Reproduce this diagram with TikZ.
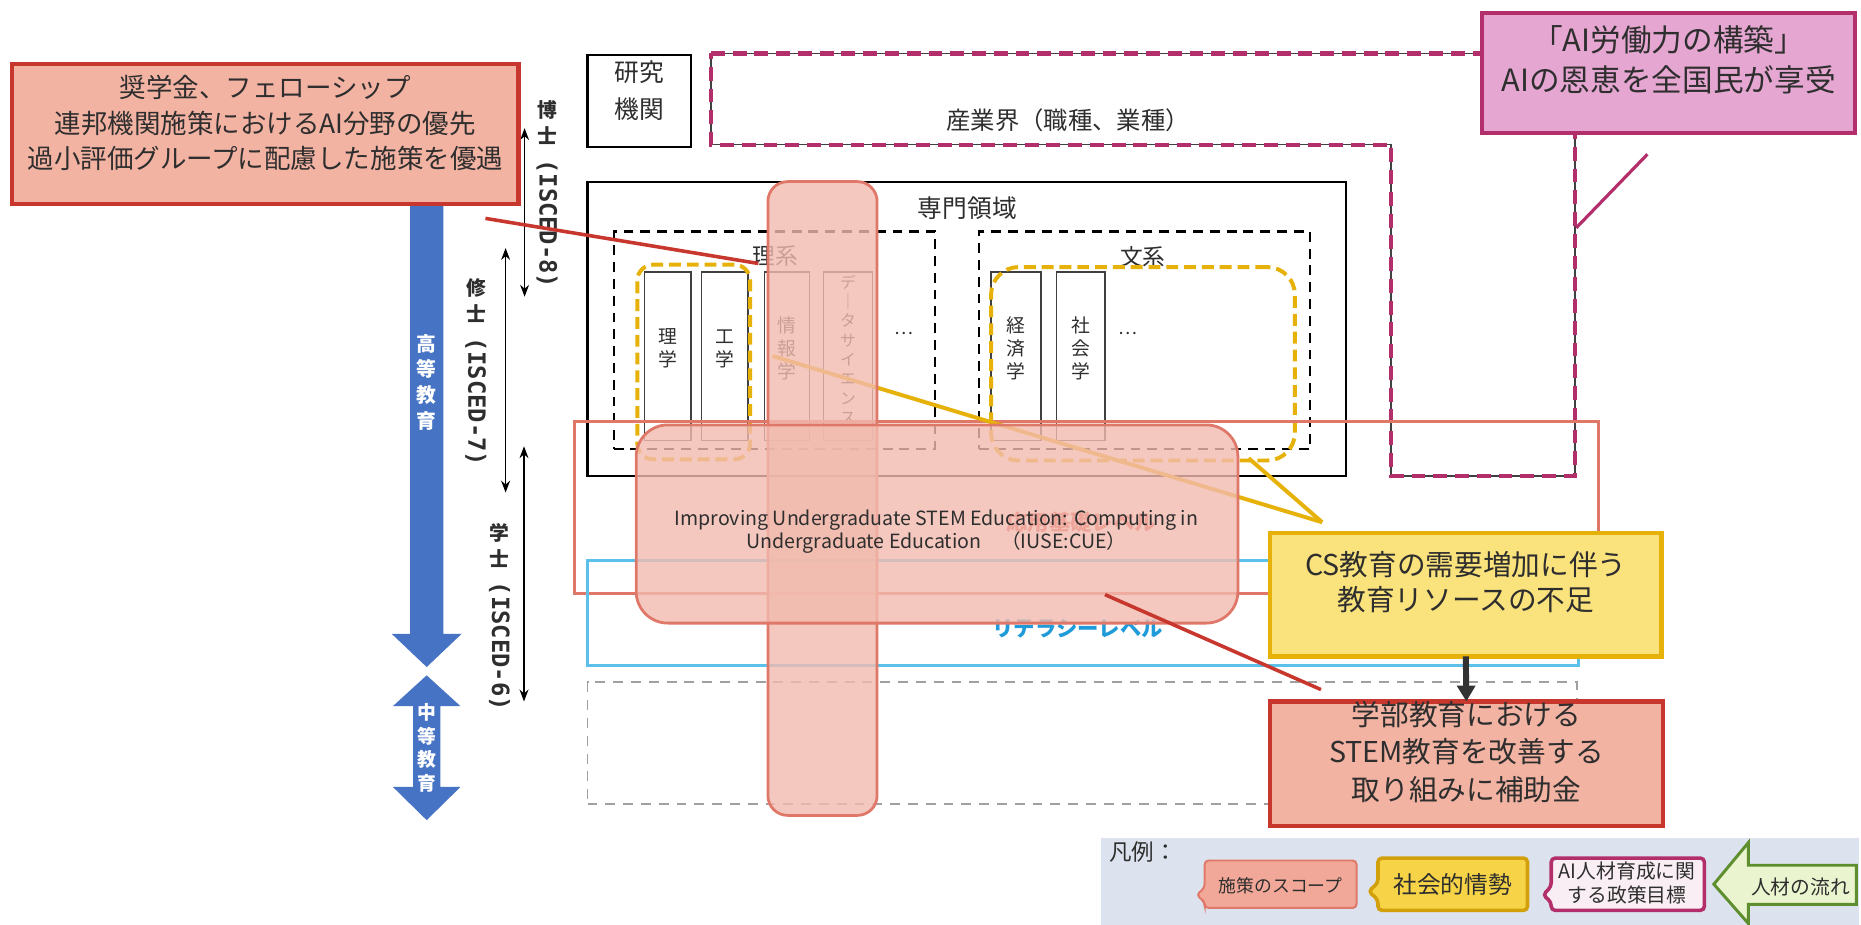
\documentclass[tikz,border=0pt]{standalone}
\usepackage{fontspec}
\setmainfont{Noto Sans CJK JP}
\newfontfamily\monof{DejaVu Sans Mono}
\usetikzlibrary{arrows.meta,fit}
\newcommand\fsz[2]{\fontsize{#1pt}{#2pt}\selectfont}
\definecolor{txt}{HTML}{2E2E2E}
\definecolor{redb}{HTML}{C8372D}
\definecolor{salmon}{HTML}{F3B3A3}
\definecolor{pinkb}{HTML}{E0786A}
\definecolor{pinkf}{HTML}{F2BBAE}
\definecolor{yelb}{HTML}{E6B20A}
\definecolor{yelf}{HTML}{FAE27C}
\definecolor{mag}{HTML}{B32F6B}
\definecolor{magf}{HTML}{E5A6D1}
\definecolor{bluea}{HTML}{4673C4}
\definecolor{cyanb}{HTML}{5BC1EA}
\definecolor{cyant}{HTML}{1E9BD8}
\definecolor{redt}{HTML}{E04848}
\definecolor{grayd}{HTML}{A0A0A0}
\definecolor{legbg}{HTML}{DCE3EE}
\definecolor{greenb}{HTML}{5E8E2E}
\definecolor{greenf}{HTML}{EAF5D0}
\definecolor{legpink}{HTML}{F2A898}
\definecolor{legyel}{HTML}{F7D447}
\definecolor{legyelb}{HTML}{D2A00A}
\definecolor{arrowd}{HTML}{333333}
\begin{document}
\begin{tikzpicture}[x=0.6pt,y=-0.6pt,
  every node/.style={text=txt},
  bx/.style={inner sep=0pt,outer sep=0pt,align=center},
  solidbox/.style={bx,draw=black,line width=1.1pt},
  dashbox/.style={bx,draw=black,line width=1.1pt,dash pattern=on 5pt off 3.5pt},
  colbox/.style={bx,draw=black!75,line width=0.8pt,font=\fsz{9.5}{11.5}},
  ydash/.style={bx,draw=yelb,line width=2pt,dash pattern=on 6pt off 3pt},
  scopebox/.style={bx,draw=pinkb,line width=1.4pt,fill=pinkf,fill opacity=0.8,text opacity=1},
  redbox/.style={bx,draw=redb,line width=2.2pt,fill=salmon},
  yelbox/.style={bx,draw=yelb,line width=2.2pt,fill=yelf},
  magbox/.style={bx,draw=mag,line width=2pt,fill=magf},
  dimarrow/.style={line width=0.7pt,black,{Stealth[length=6pt,width=4.5pt]}-{Stealth[length=6pt,width=4.5pt]}},
  isclbl/.style={bx,anchor=north,font=\bfseries\fsz{10}{13}},
  vlbl/.style={bx,text=white,font=\bfseries\fsz{10}{13}},
  indpath/.style={draw=black!75,line width=0.6pt},
  inddash/.style={draw=mag,line width=2.3pt,dash pattern=on 7pt off 4pt},
  ]
\useasboundingbox (0,0) rectangle (1568,779);
\fill[white] (0,0) rectangle (1568,779);

% legend background
\node[bx,fill=legbg,fit={(928,706)(1566,779)}] (legbg) {};

% industry L-shape
\path[indpath] (599,45) -- (1327,45) -- (1327,401) -- (1172,401) -- (1172,122) -- (599,122) -- cycle;
\path[inddash] (599,45) -- (1327,45) -- (1327,401) -- (1172,401) -- (1172,122) -- (599,122) -- cycle;
\coordinate (indR) at (1328,192);
\node[bx,font=\fsz{12.3}{14}] (indlbl) at (900,101) {産業界（職種、業種）};

% research institutes
\node[solidbox,fit={(495,46)(582,124)},font=\fsz{12.5}{18.5}] (ken) {研究\\機関};

% specialised fields
\node[solidbox,fit={(495,153)(1134,401)}] (senmon) {};
\node[bx,font=\fsz{12.5}{14}] (senlbl) at (815,175) {専門領域};
\node[dashbox,fit={(517,195)(788,378)}] (rikei) {};
\node[bx,font=\fsz{11.5}{13}] (rikeilbl) at (653,216) {理系};
\node[dashbox,fit={(825,195)(1104,378)}] (bunkei) {};
\node[bx,font=\fsz{11.5}{13}] (bunkeilbl) at (963,216) {文系};

\node[colbox,fit={(543,229)(582,371)}] (rigaku) {理\\学};
\node[colbox,fit={(591,229)(630,371)}] (kogaku) {工\\学};
\node[colbox,fit={(644,229)(682,371)}] (joho) {情\\報\\学};
\node[colbox,fit={(694,229)(735,371)},font=\fsz{8}{9.8}] (ds) {デ\\｜\\タ\\サ\\イ\\エ\\ン\\ス};
\node[bx,font=\fsz{9}{10}] (dots1) at (762,281) {…};
\node[colbox,fit={(835,229)(877,371)}] (keizai) {経\\済\\学};
\node[colbox,fit={(890,229)(931,371)}] (shakai) {社\\会\\学};
\node[bx,font=\fsz{9}{10}] (dots2) at (950,281) {…};

% social situation outlines
\node[ydash,rounded corners=8pt,fit={(537,223)(632,387)}] (ysci) {};
\node[ydash,rounded corners=14pt,fit={(835,225)(1091,388)}] (yhum) {};

% levels
\node[bx,draw=pinkb,line width=1.3pt,fit={(484,355)(1347,500)}] (ouyou) {};
\node[bx,text=redt,font=\bfseries\fsz{10.8}{13}] (ouyoulbl) at (911,440) {応用基礎レベル};
\node[bx,draw=cyanb,line width=1.6pt,fit={(495,472)(1330,561)}] (lit) {};
\node[bx,text=cyant,font=\bfseries\fsz{10.8}{13}] (litlbl) at (908,530) {リテラシーレベル};
\node[bx,draw=grayd,line width=1pt,dash pattern=on 5pt off 4pt,fit={(495,575)(1329,677)}] (sec) {};

% education stage arrows
\fill[bluea] (345.5,150) -- (373.5,150) -- (373.5,534) -- (389,534) -- (359.5,562) -- (330,534) -- (345.5,534) -- cycle;
\node[vlbl] (koto) at (359.5,322) {高\\等\\教\\育};
\fill[bluea] (359.5,569) -- (388,595) -- (371,595) -- (371,663) -- (388,663) -- (359.5,691) -- (331,663) -- (348,663) -- (348,595) -- (331,595) -- cycle;
\node[vlbl,font=\bfseries\fsz{9.5}{12}] (chuto) at (359.5,630) {中\\等\\教\\育};

% ISCED levels
\coordinate (d1) at (442,108); \coordinate (d2) at (442,250);
\draw[dimarrow] (d1) -- (d2);
\node[isclbl] (hakase) at (461,85) {博\\士\\[-5pt]\rotatebox{-90}{\monof\fsz{12}{13}(ISCED-8)}};
\coordinate (m1) at (426,209); \coordinate (m2) at (426,415);
\draw[dimarrow] (m1) -- (m2);
\node[isclbl] (shushi) at (401,235) {修\\士\\[-5pt]\rotatebox{-90}{\monof\fsz{12}{13}(ISCED-7)}};
\coordinate (b1) at (441.5,376); \coordinate (b2) at (441.5,591);
\draw[dimarrow] (b1) -- (b2);
\node[isclbl] (gakushi) at (421,441) {学\\士\\[-5pt]\rotatebox{-90}{\monof\fsz{12}{13}(ISCED-6)}};

% yellow pointer lines
\coordinate (ytip) at (1114,440);
\coordinate (yinfo) at (651,300);
\coordinate (yhumpt) at (1052,386);
\draw[yelb,line width=2pt] (ytip) -- (yinfo);
\draw[yelb,line width=2pt] (ytip) -- (yhumpt);

% policy scope (translucent)
\node[scopebox,rounded corners=10pt,fit={(647,153)(739,687)}] (column) {};
\node[scopebox,rounded corners=16pt,fit={(536,358)(1043,525)}] (iuse) {};
\node[bx,font=\fsz{9.9}{12}] (iusetext) at (789,448)
  {Improving Undergraduate STEM Education: Computing in\\Undergraduate Education　（IUSE:CUE）};

% scholarship box and pointer
\coordinate (schtail) at (409,184);
\coordinate (schtip) at (639,222);
\draw[redb,line width=1.8pt] (schtail) -- (schtip);
\node[redbox,fit={(10,54)(437,172)},font=\fsz{13.4}{18}] (schol)
  {奨学金、フェローシップ\\連邦機関施策におけるAI分野の優先\\過小評価グループに配慮した施策を優遇};

% AI workforce goal
\node[magbox,fit={(1249,11)(1563,112)},font=\fsz{15.5}{20}] (aigoal) {「AI労働力の構築」\\AIの恩恵を全国民が享受};
\coordinate (aitail) at (1388,130);
\draw[mag,line width=1.6pt] (aitail) -- (indR);

% CS box, grant box
\node[yelbox,fit={(1070,449)(1400,553)},font=\fsz{14.5}{17.7}] (cs) {CS教育の需要増加に伴う\\教育リソースの不足};
\node[redbox,fit={(1070,591)(1401,696)},font=\fsz{14.5}{19}] (grant) {学部教育における\\STEM教育を改善する\\取り組みに補助金};
\draw[arrowd,line width=3pt,-{Triangle[length=8pt,width=9pt]}] (cs.south) -- (grant.north);
\coordinate (rtail) at (931,501);
\coordinate (rtip) at (1113,581);
\draw[redb,line width=1.8pt] (rtail) -- (rtip);

% legend
\node[bx,font=\fsz{11.4}{13}] (legtitle) at (963,718) {凡例：};
\path[draw=pinkb,line width=1pt,fill=legpink,rounded corners=2pt] (1015,725) -- (1143,725) -- (1143,765) -- (1015,765) -- (1015,760) -- (1008,754) -- (1015,748) -- cycle;
\node[bx,font=\fsz{9}{10}] (lg1) at (1079,746) {施策のスコープ};
\path[draw=legyelb,line width=1.8pt,fill=legyel,rounded corners=2pt] (1161,723) -- (1287,723) -- (1287,767) -- (1161,767) -- (1161,758) -- (1153,751) -- (1161,744) -- cycle;
\node[bx,font=\fsz{12}{13}] (lg2) at (1224,745) {社会的情勢};
\path[draw=mag,line width=1.8pt,fill=white!92!mag,rounded corners=2pt] (1307,723) -- (1436,723) -- (1436,767) -- (1307,767) -- (1307,760) -- (1300,754) -- (1307,747) -- cycle;
\node[bx,font=\fsz{10}{12.5}] (lg3) at (1371,744) {AI人材育成に関\\する政策目標};
\path[draw=greenb,line width=1.5pt,fill=greenf] (1444,745) -- (1473,710) -- (1473,729) -- (1564,729) -- (1564,762) -- (1473,762) -- (1473,778) -- cycle;
\node[bx,font=\fsz{10}{11}] (lg4) at (1517,747) {人材の流れ};
\end{tikzpicture}
\end{document}
